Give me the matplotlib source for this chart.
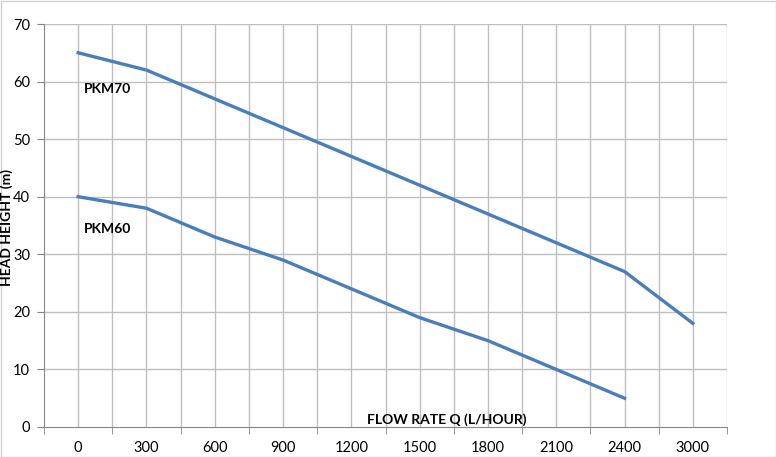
import matplotlib.pyplot as plt
import numpy as np

flow_labels = ["0", "300", "600", "900", "1200", "1500", "1800", "2100", "2400", "3000"]
pkm70 = [65, 62, 57, 52, 47, 42, 37, 32, 27, 18]
pkm60 = [40, 38, 33, 29, 24, 19, 15, 10, 5]

plt.rcParams['font.family'] = ['Lato', 'DejaVu Sans']

W, H = 776, 457
fig = plt.figure(figsize=(W / 100, H / 100), dpi=100)
ax = fig.add_axes([44 / W, 30 / H, (727 - 44) / W, (427 - 24) / H])

line_color = '#4a7ebb'
grid_color = '#bfbfbf'

x70 = np.arange(len(pkm70))
x60 = np.arange(len(pkm60))
ax.plot(x70, pkm70, color=line_color, lw=2.4, solid_joinstyle='round')
ax.plot(x60, pkm60, color=line_color, lw=2.4, solid_joinstyle='round')

n = len(flow_labels)
ax.set_xlim(-0.5, n - 0.5)
ax.set_ylim(0, 70)

# gridlines at category centres and boundaries
for v in np.arange(-0.5, n, 0.5)[1:]:
    ax.axvline(v, color=grid_color, lw=1, zorder=0)
for y in range(10, 71, 10):
    ax.axhline(y, color=grid_color, lw=1, zorder=0)

ax.set_xticks(np.arange(n))
ax.set_xticklabels(flow_labels, fontsize=10.5)
ax.set_xticks(np.arange(-0.5, n, 1), minor=True)
ax.tick_params(axis='x', which='major', length=0, pad=10)
ax.tick_params(axis='x', which='minor', length=5, color='#868686', direction='out')
ax.set_yticks(range(0, 71, 10))
ax.tick_params(axis='y', length=5, color='#868686', labelsize=10.5, pad=5)

for s in ['top', 'right']:
    ax.spines[s].set_visible(False)
for s in ['left', 'bottom']:
    ax.spines[s].set_color('#868686')

ax.text(0.08, 58.0, "PKM70", fontsize=10, fontweight='bold')
ax.text(0.08, 33.7, "PKM60", fontsize=10, fontweight='bold')
ax.text(5.4, 0.6, "FLOW RATE Q (L/HOUR)", fontsize=10, fontweight='bold', ha='center')
fig.text(7 / W, 1 - 228 / H, "HEAD HEIGHT (m)", rotation=90, fontsize=10,
         fontweight='bold', ha='center', va='center')

fig.patches.append(plt.Rectangle((0.5 / W, 0.5 / H), 1 - 1 / W, 1 - 1 / H, transform=fig.transFigure,
                                 fill=False, edgecolor='#d0d0d0', lw=1))

fig.savefig("out.png", dpi=100)
